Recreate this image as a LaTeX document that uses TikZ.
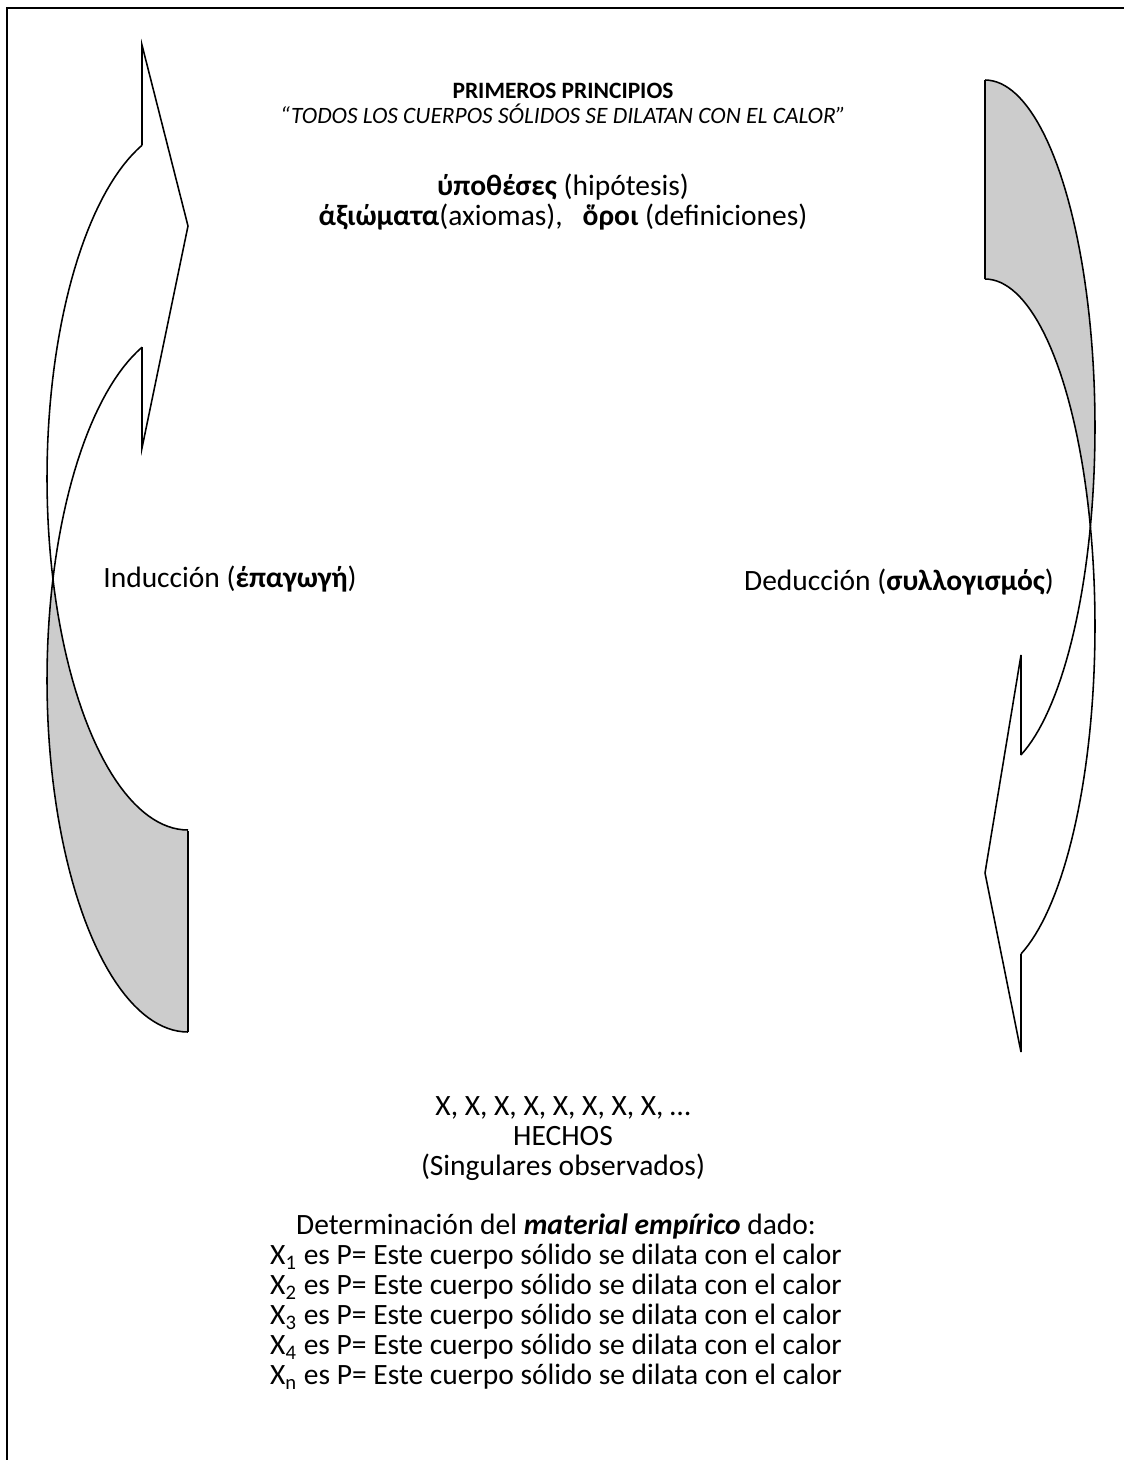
\documentclass[tikz,border=0pt]{standalone}
\usepackage{fontspec}
\setmainfont{Carlito}
\usetikzlibrary{positioning}
\tikzset{
	banda/.style={
		draw=black,
		line width=0.7pt,
		line join=miter},
	reverso/.style={fill=black!20},
	texto/.style={
		align=center,
		inner sep=0pt,
		font=\fontsize{13.2}{13.43}\selectfont},
	titulo/.style={
		align=center,
		inner sep=0pt,
		font=\fontsize{10.5}{11.2}\selectfont},
}
\begin{document}
\begin{tikzpicture}[x=0.4476pt, y=-0.4476pt]
	\useasboundingbox (0,0) rectangle (1124,1460);
	\draw[line width=0.7pt] (7,1460) -- (7,8) -- (1124,8);

	% flecha de la induccion
	\fill[reverso] plot[domain=163.3:90, samples=40] ({188+141*cos(\x)},{478+352*sin(\x)})
		-- (188,1032) -- plot[domain=90:196.7, samples=40] ({188+141*cos(\x)},{680+352*sin(\x)}) -- cycle;
	\draw[banda] plot[domain=251:90, samples=80] ({188+141*cos(\x)},{478+352*sin(\x)});
	\draw[banda] plot[domain=251:90, samples=80] ({188+141*cos(\x)},{680+352*sin(\x)});
	\draw[banda] (188,831) -- (188,1032);
	\draw[banda] (142,145) -- (142,45) -- (188,226) -- (142,448) -- (142,347);

	% flecha de la deduccion
	\fill[reverso] plot[domain=-90:16.7, samples=40] ({985+110*cos(\x)},{427+347*sin(\x)})
		-- plot[domain=-16.7:-90, samples=40] ({985+110*cos(\x)},{626+347*sin(\x)}) -- cycle;
	\draw[banda] plot[domain=-90:70.9, samples=80] ({985+110*cos(\x)},{427+347*sin(\x)});
	\draw[banda] plot[domain=-90:70.9, samples=80] ({985+110*cos(\x)},{626+347*sin(\x)});
	\draw[banda] (985,80) -- (985,279);
	\draw[banda] (1021,954) -- (1021,1052) -- (985,873) -- (1021,655) -- (1021,755);

	\node[titulo] (principios) at (563,103) {\textbf{PRIMEROS PRINCIPIOS}\\
		\textit{“TODOS LOS CUERPOS SÓLIDOS SE DILATAN CON EL CALOR”}};
	\node[texto] (hipotesis) at (563,202) {\textbf{ύποθέσες} (hipótesis)\\
		\textbf{άξιώματα}(axiomas),~~ \textbf{ὅροι} (definiciones)};
	\node[texto] (induccion) at (230,579) {Inducción (\textbf{έπαγωγή})};
	\node[texto] (deduccion) at (899,582) {Deducción (\textbf{συλλογισμός})};
	\node[texto] (hechos) at (563,1139) {X, X, X, X, X, X, X, X, …\\
		HECHOS\\
		(Singulares observados)};
	\node[texto] (material) at (556,1302) {Determinación del \textbf{\textit{material empírico}} dado:\\
		X\textsubscript{1} es P= Este cuerpo sólido se dilata con el calor\\
		X\textsubscript{2} es P= Este cuerpo sólido se dilata con el calor\\
		X\textsubscript{3} es P= Este cuerpo sólido se dilata con el calor\\
		X\textsubscript{4} es P= Este cuerpo sólido se dilata con el calor\\
		X\textsubscript{n} es P= Este cuerpo sólido se dilata con el calor};
\end{tikzpicture}
\end{document}
